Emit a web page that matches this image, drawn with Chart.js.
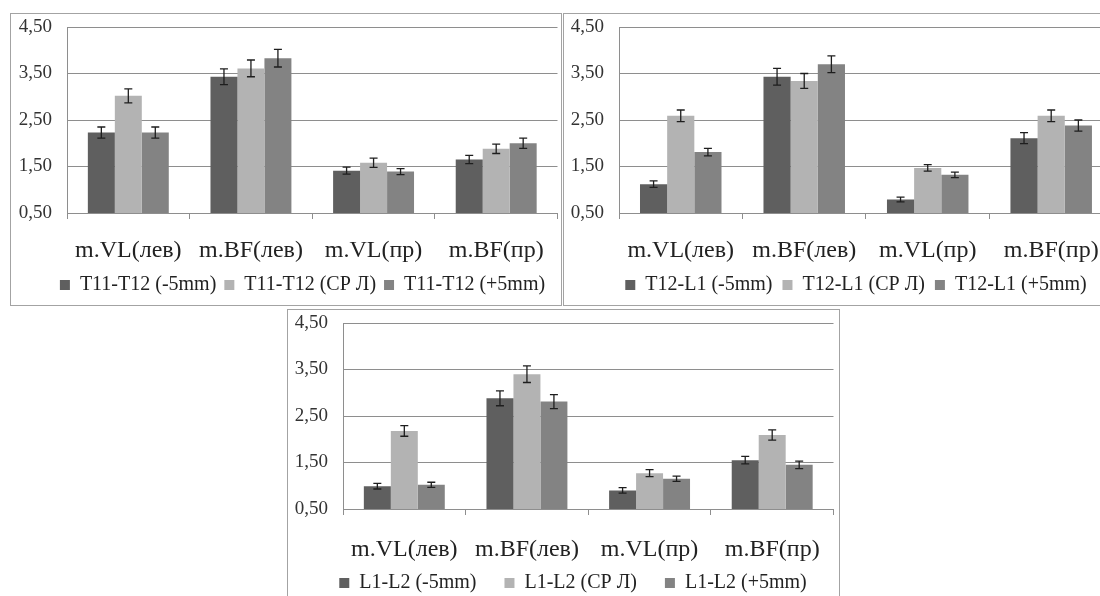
<!DOCTYPE html>
<html lang="ru">
<head>
  <meta charset="UTF-8">
  <title>m.VL / m.BF</title>
  <style>
    body {
      margin: 0;
      background: #ffffff;
      width: 1100px;
      height: 596px;
      overflow: hidden;
      position: relative;
    }
    canvas { position: absolute; }
    .frame {
      position: absolute;
      border: 1px solid #a3a3a3;
      box-sizing: border-box;
      pointer-events: none;
    }
  </style>
  <script src="https://cdn.jsdelivr.net/npm/chart.js"></script>
</head>
<body>
  <div class="frame" style="left:10px;top:13px;width:552px;height:293px"></div>
  <div class="frame" style="left:563px;top:13px;width:600px;height:293px"></div>
  <div class="frame" style="left:287px;top:309px;width:553px;height:320px"></div>

  <canvas id="chartA" width="550" height="291" style="left:11px;top:14px"></canvas>
  <canvas id="chartB" width="553" height="291" style="left:563px;top:14px"></canvas>
  <canvas id="chartC" width="553" height="293" style="left:287px;top:310px"></canvas>

  <script>
    // categories
    const categories = ['m.VL(лев)', 'm.BF(лев)', 'm.VL(пр)', 'm.BF(пр)'];
    const yTicks = [0.5, 1.5, 2.5, 3.5, 4.5];

    // T11-T12
    const t11Names = ['T11-T12 (-5mm)', 'T11-T12 (СР Л)', 'T11-T12 (+5mm)'];
    const t11Minus = [2.23, 3.43, 1.41, 1.65];
    const t11Cp = [3.02, 3.61, 1.58, 1.88];
    const t11Plus = [2.23, 3.83, 1.39, 2.00];
    const t11MinusErr = [0.12, 0.17, 0.075, 0.09];
    const t11CpErr = [0.15, 0.18, 0.10, 0.10];
    const t11PlusErr = [0.12, 0.19, 0.065, 0.11];

    // T12-L1
    const t12Names = ['T12-L1 (-5mm)', 'T12-L1 (СР Л)', 'T12-L1 (+5mm)'];
    const t12Minus = [1.12, 3.43, 0.79, 2.11];
    const t12Cp = [2.59, 3.34, 1.47, 2.59];
    const t12Plus = [1.81, 3.70, 1.32, 2.38];
    const t12MinusErr = [0.07, 0.18, 0.05, 0.12];
    const t12CpErr = [0.125, 0.16, 0.07, 0.125];
    const t12PlusErr = [0.08, 0.18, 0.06, 0.12];

    // L1-L2
    const l1Names = ['L1-L2 (-5mm)', 'L1-L2 (СР Л)', 'L1-L2 (+5mm)'];
    const l1Minus = [0.99, 2.88, 0.90, 1.55];
    const l1Cp = [2.18, 3.40, 1.27, 2.09];
    const l1Plus = [1.02, 2.81, 1.15, 1.45];
    const l1MinusErr = [0.06, 0.16, 0.06, 0.08];
    const l1CpErr = [0.115, 0.18, 0.075, 0.11];
    const l1PlusErr = [0.055, 0.15, 0.055, 0.08];

    const barColors = ['#5f5f5f', '#b3b3b3', '#838383'];
    const lineGrey = '#8e8e8e';
    const serif = "'Liberation Serif', 'Times New Roman', serif";
    const legendSize = 20;

    // moustaches d'erreur dessinees par-dessus les barres
    const errorBars = {
      id: 'errorBars',
      afterDatasetsDraw(chart) {
        const ctx = chart.ctx;
        const y = chart.scales.y;
        ctx.save();
        ctx.strokeStyle = '#1e1e1e';
        ctx.lineWidth = 1.3;
        chart.data.datasets.forEach((ds, i) => {
          chart.getDatasetMeta(i).data.forEach((bar, j) => {
            const top = y.getPixelForValue(ds.data[j] + ds.errors[j]);
            const bot = y.getPixelForValue(ds.data[j] - ds.errors[j]);
            ctx.beginPath();
            ctx.moveTo(bar.x, top); ctx.lineTo(bar.x, bot);
            ctx.moveTo(bar.x - 4, top); ctx.lineTo(bar.x + 4, top);
            ctx.moveTo(bar.x - 4, bot); ctx.lineTo(bar.x + 4, bot);
            ctx.stroke();
          });
        });
        ctx.restore();
      }
    };

    // decale la legende horizontalement (comme dans l'original, pas tout a fait centree)
    const legendShift = {
      id: 'legendShift',
      afterLayout(chart, args, opts) {
        if (chart.legend) {
          chart.legend.left += opts.dx;
          chart.legend.right += opts.dx;
        }
      }
    };

    function makeChart(id, names, series, errors, legendPad, dx, tickPad, tail) {
      const canvas = document.getElementById(id);
      const datasets = names.map((name, i) => ({
        label: name,
        data: series[i],
        errors: errors[i],
        backgroundColor: barColors[i],
        borderWidth: 0,
        barPercentage: 1,
        categoryPercentage: 0.66
      }));
      const legendH = legendSize + legendPad + 10;
      const defaultLabels = Chart.defaults.plugins.legend.labels.generateLabels;
      return new Chart(canvas, {
        type: 'bar',
        data: { labels: categories, datasets: datasets },
        options: {
          responsive: false,
          animation: false,
          devicePixelRatio: 1,
          layout: { padding: { top: 13, right: 3, left: 0, bottom: 0 } },
          plugins: {
            tooltip: { enabled: false },
            legendShift: { dx: dx },
            legend: {
              position: 'bottom',
              labels: {
                boxWidth: 10,
                boxHeight: 10,
                padding: legendPad,
                color: '#222',
                font: { family: serif, size: legendSize },
                generateLabels: ch => defaultLabels(ch).map(l => ({ ...l, text: l.text + tail }))
              }
            }
          },
          scales: {
            x: {
              afterFit: s => { s.height = canvas.height - 199 - legendH; },
              grid: { offset: true, drawOnChartArea: false, drawTicks: true, tickLength: 6, color: lineGrey },
              border: { color: lineGrey },
              ticks: { color: '#222', padding: tickPad, font: { family: serif, size: 24 } }
            },
            y: {
              min: yTicks[0],
              max: yTicks[yTicks.length - 1],
              afterFit: s => { s.width = 56; s.paddingTop = 0; s.paddingBottom = 0; },
              afterBuildTicks: s => { s.ticks = yTicks.map(v => ({ value: v })); },
              grid: { drawTicks: false, color: lineGrey },
              border: { color: lineGrey },
              ticks: {
                color: '#333',
                padding: 15,
                font: { family: serif, size: 19 },
                callback: v => v.toFixed(2).replace('.', ',')
              }
            }
          }
        },
        plugins: [errorBars, legendShift]
      });
    }

    makeChart('chartA', t11Names, [t11Minus, t11Cp, t11Plus],
      [t11MinusErr, t11CpErr, t11PlusErr], 8, 18, 17, '');
    makeChart('chartB', t12Names, [t12Minus, t12Cp, t12Plus],
      [t12MinusErr, t12CpErr, t12PlusErr], 10, 18, 17, '');
    makeChart('chartC', l1Names, [l1Minus, l1Cp, l1Plus],
      [l1MinusErr, l1CpErr, l1PlusErr], 8, 21, 20, '\u2003');
  </script>
</body>
</html>
